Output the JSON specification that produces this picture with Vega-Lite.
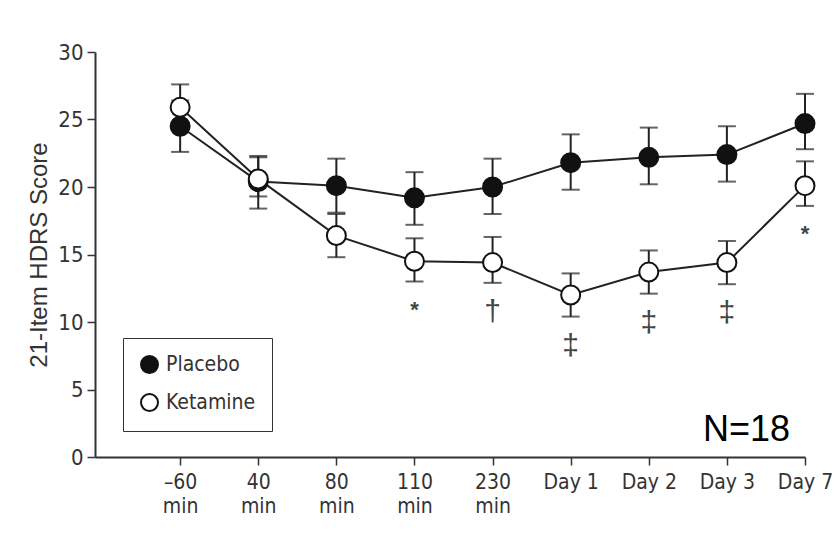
{
  "$schema": "https://vega.github.io/schema/vega-lite/v6.json",
  "width": 710,
  "height": 405,
  "autosize": {"type": "none"},
  "padding": {"left": 95, "top": 52, "right": 34, "bottom": 87},
  "background": "white",
  "config": {
    "view": {"stroke": null},
    "font": "Liberation Sans",
    "axisX": {
      "domainColor": "#333333", "domainWidth": 2, "tickColor": "#333333", "tickWidth": 1.5, "tickSize": 8,
      "labelFont": "DejaVu Sans Condensed, sans-serif", "labelFontSize": 21, "labelColor": "#333333",
      "labelPadding": 6, "labelLineHeight": 24, "labelAngle": 0, "labelBaseline": "top", "grid": false
    },
    "axisY": {
      "domainColor": "#333333", "domainWidth": 2, "tickColor": "#333333", "tickWidth": 1.5, "tickSize": 8,
      "labelFont": "DejaVu Sans Condensed, sans-serif", "labelFontSize": 22, "labelColor": "#333333",
      "labelPadding": 4, "grid": false, "tickCount": 6,
      "titleX": -49, "titleY": 202.5, "titleAngle": -90, "titleAlign": "center", "titleBaseline": "alphabetic",
      "titleFont": "Liberation Sans", "titleFontSize": 24, "titleFontWeight": "normal", "titleColor": "#333333"
    }
  },
  "data": {
    "values": [
      {"time": "–60 min", "group": "Placebo", "mean": 24.5, "lo": 22.6, "hi": 26.4, "sig": ""},
      {"time": "40 min", "group": "Placebo", "mean": 20.4, "lo": 18.4, "hi": 22.3, "sig": ""},
      {"time": "80 min", "group": "Placebo", "mean": 20.1, "lo": 18.1, "hi": 22.1, "sig": ""},
      {"time": "110 min", "group": "Placebo", "mean": 19.2, "lo": 17.2, "hi": 21.1, "sig": ""},
      {"time": "230 min", "group": "Placebo", "mean": 20.0, "lo": 18.0, "hi": 22.1, "sig": ""},
      {"time": "Day 1", "group": "Placebo", "mean": 21.8, "lo": 19.8, "hi": 23.9, "sig": ""},
      {"time": "Day 2", "group": "Placebo", "mean": 22.2, "lo": 20.2, "hi": 24.4, "sig": ""},
      {"time": "Day 3", "group": "Placebo", "mean": 22.4, "lo": 20.4, "hi": 24.5, "sig": ""},
      {"time": "Day 7", "group": "Placebo", "mean": 24.7, "lo": 22.8, "hi": 26.9, "sig": ""},
      {"time": "–60 min", "group": "Ketamine", "mean": 25.9, "lo": 24.2, "hi": 27.6, "sig": ""},
      {"time": "40 min", "group": "Ketamine", "mean": 20.6, "lo": 19.3, "hi": 22.2, "sig": ""},
      {"time": "80 min", "group": "Ketamine", "mean": 16.4, "lo": 14.8, "hi": 18.0, "sig": ""},
      {"time": "110 min", "group": "Ketamine", "mean": 14.5, "lo": 13.0, "hi": 16.2, "sig": "*"},
      {"time": "230 min", "group": "Ketamine", "mean": 14.4, "lo": 12.9, "hi": 16.3, "sig": "†"},
      {"time": "Day 1", "group": "Ketamine", "mean": 12.0, "lo": 10.4, "hi": 13.6, "sig": "‡"},
      {"time": "Day 2", "group": "Ketamine", "mean": 13.7, "lo": 12.1, "hi": 15.3, "sig": "‡"},
      {"time": "Day 3", "group": "Ketamine", "mean": 14.4, "lo": 12.8, "hi": 16.0, "sig": "‡"},
      {"time": "Day 7", "group": "Ketamine", "mean": 20.1, "lo": 18.6, "hi": 21.9, "sig": "*"}
    ]
  },
  "encoding": {
    "x": {
      "field": "time", "type": "ordinal", "title": null,
      "sort": ["–60 min", "40 min", "80 min", "110 min", "230 min", "Day 1", "Day 2", "Day 3", "Day 7"],
      "scale": {"type": "point", "domain": ["–60 min", "40 min", "80 min", "110 min", "230 min", "Day 1", "Day 2", "Day 3", "Day 7"], "padding": 0.545, "align": 1},
      "axis": {"labelExpr": "split(datum.label, ' ')[1] == 'min' ? split(datum.label, ' ') : datum.label"}
    }
  },
  "layer": [
    {
      "mark": {"type": "rule", "color": "#222222", "strokeWidth": 2},
      "encoding": {
        "y": {"field": "lo", "type": "quantitative", "title": "21-Item HDRS Score", "scale": {"domain": [0, 30], "nice": false, "zero": true}},
        "y2": {"field": "hi"}
      }
    },
    {
      "mark": {"type": "tick", "orient": "horizontal", "color": "#222222", "size": 18, "thickness": 2},
      "encoding": {"y": {"field": "lo", "type": "quantitative", "title": "21-Item HDRS Score"}}
    },
    {
      "mark": {"type": "tick", "orient": "horizontal", "color": "#222222", "size": 18, "thickness": 2},
      "encoding": {"y": {"field": "hi", "type": "quantitative", "title": "21-Item HDRS Score"}}
    },
    {
      "mark": {"type": "line", "color": "#222222", "strokeWidth": 2},
      "encoding": {
        "y": {"field": "mean", "type": "quantitative", "title": "21-Item HDRS Score"},
        "detail": {"field": "group"},
        "order": {"value": null}
      }
    },
    {
      "mark": {"type": "point", "shape": "circle", "filled": true, "size": 361, "stroke": "#111111", "strokeWidth": 2, "opacity": 1},
      "encoding": {
        "y": {"field": "mean", "type": "quantitative", "title": "21-Item HDRS Score"},
        "fill": {
          "field": "group", "type": "nominal",
          "scale": {"domain": ["Placebo", "Ketamine"], "range": ["#111111", "#ffffff"]},
          "legend": {
            "title": null, "orient": "none", "legendX": 28, "legendY": 286,
            "strokeColor": "#333333", "padding": 16, "rowPadding": 13,
            "symbolType": "circle", "symbolSize": 289, "symbolStrokeColor": "#111111", "symbolStrokeWidth": 2,
            "labelFont": "DejaVu Sans Condensed, sans-serif", "labelFontSize": 21, "labelColor": "#333333", "labelOffset": 6
          }
        }
      }
    },
    {
      "transform": [{"filter": "datum.sig == '*'"}],
      "mark": {"type": "text", "baseline": "top", "dy": 18, "fontSize": 22, "fontWeight": "bold", "color": "#444444"},
      "encoding": {"y": {"field": "lo", "type": "quantitative", "title": "21-Item HDRS Score"}, "text": {"field": "sig"}}
    },
    {
      "transform": [{"filter": "datum.sig == '†' || datum.sig == '‡'"}],
      "mark": {"type": "text", "baseline": "top", "dy": 14, "fontSize": 30, "color": "#444444"},
      "encoding": {"y": {"field": "lo", "type": "quantitative", "title": "21-Item HDRS Score"}, "text": {"field": "sig"}}
    },
    {
      "data": {"values": [{"label": "N=18"}]},
      "mark": {"type": "text", "align": "left", "baseline": "alphabetic", "dx": -24, "fontSize": 36, "font": "Liberation Sans", "color": "#000000"},
      "encoding": {
        "x": {"datum": "Day 3"},
        "y": {"datum": 1.2},
        "text": {"field": "label"}
      }
    }
  ]
}
